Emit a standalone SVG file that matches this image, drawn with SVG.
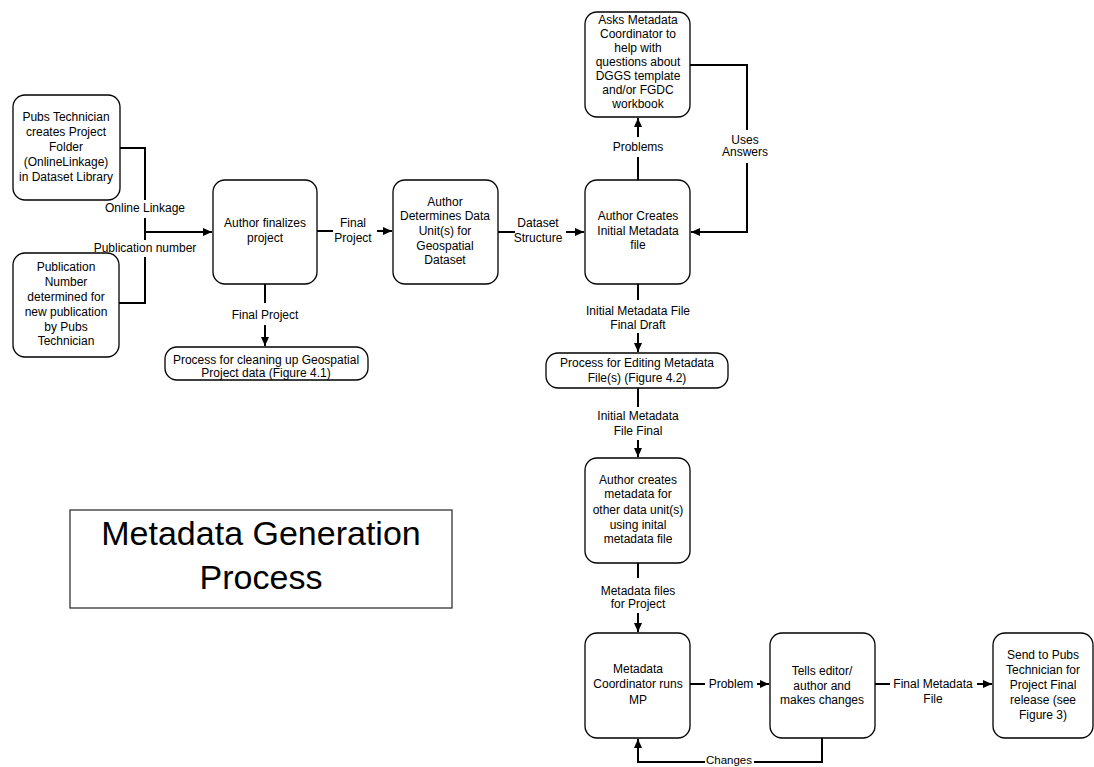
<svg xmlns="http://www.w3.org/2000/svg" width="1094" height="767" viewBox="0 0 1094 767">
<style>
.box{fill:#fff;stroke:#000;stroke-width:1.3}
.t{font-family:"Liberation Sans",Arial,sans-serif;font-size:12px;fill:#000;text-anchor:middle}
.title{font-family:"Liberation Sans",Arial,sans-serif;font-size:34px;fill:#000;text-anchor:middle}
.c{fill:none;stroke:#000;stroke-width:2}
</style>
<defs>
<marker id="ah" markerWidth="10" markerHeight="10" refX="9" refY="5" orient="auto" markerUnits="userSpaceOnUse">
<path d="M0,1 L9,5 L0,9 z" fill="#000"/>
</marker>
</defs>
<rect width="1094" height="767" fill="#fff"/>

<g id="connectors">
<path class="c" d="M120,148 H145 V200"/>
<path class="c" d="M145,218 V240"/>
<path class="c" d="M145,232 H212" marker-end="url(#ah)"/>
<path class="c" d="M145,257 V303 H119"/>
<text class="t" x="145" y="212">Online Linkage</text>
<text class="t" x="145" y="252">Publication number</text>

<path class="c" d="M317,231 H333"/>
<path class="c" d="M377,231 H392" marker-end="url(#ah)"/>
<text class="t" x="353" y="227">Final</text>
<text class="t" x="353" y="242">Project</text>

<path class="c" d="M265,284 V303"/>
<path class="c" d="M265,325 V346" marker-end="url(#ah)"/>
<text class="t" x="265" y="319">Final Project</text>

<path class="c" d="M498,232 H515"/>
<path class="c" d="M566,232 H584" marker-end="url(#ah)"/>
<text class="t" x="538" y="227">Dataset</text>
<text class="t" x="538" y="242">Structure</text>

<path class="c" d="M638,180 V157"/>
<path class="c" d="M638,137 V118" marker-end="url(#ah)"/>
<text class="t" x="638" y="151">Problems</text>

<path class="c" d="M690,65 H747 V130"/>
<path class="c" d="M747,163 V232 H691" marker-end="url(#ah)"/>
<text class="t" x="745" y="144">Uses</text>
<text class="t" x="745" y="156">Answers</text>

<path class="c" d="M638,284 V300"/>
<path class="c" d="M638,333 V352" marker-end="url(#ah)"/>
<text class="t" x="638" y="315">Initial Metadata File</text>
<text class="t" x="638" y="329">Final Draft</text>

<path class="c" d="M638,388 V407"/>
<path class="c" d="M638,440 V457" marker-end="url(#ah)"/>
<text class="t" x="638" y="420">Initial Metadata</text>
<text class="t" x="638" y="435">File Final</text>

<path class="c" d="M638,563 V578"/>
<path class="c" d="M638,613 V632" marker-end="url(#ah)"/>
<text class="t" x="638" y="595">Metadata files</text>
<text class="t" x="638" y="608">for Project</text>

<path class="c" d="M690,684 H705"/>
<path class="c" d="M757,684 H769" marker-end="url(#ah)"/>
<text class="t" x="731" y="688">Problem</text>

<path class="c" d="M875,684 H890"/>
<path class="c" d="M977,684 H992" marker-end="url(#ah)"/>
<text class="t" x="933" y="688">Final Metadata</text>
<text class="t" x="933" y="703">File</text>

<path class="c" d="M822,738 V762 H754"/>
<path class="c" d="M705,762 H638 V739" marker-end="url(#ah)"/>
<text class="t" x="729" y="764" style="font-size:11.5px">Changes</text>
</g>

<g id="pubs">
<rect class="box" x="13" y="95" width="107" height="105" rx="12"/>
<text class="t" x="66" y="121">Pubs Technician</text>
<text class="t" x="66" y="136">creates Project</text>
<text class="t" x="66" y="151">Folder</text>
<text class="t" x="66" y="166">(OnlineLinkage)</text>
<text class="t" x="66" y="181">in Dataset Library</text>
</g>

<g id="pubnum">
<rect class="box" x="13" y="253" width="106" height="104" rx="12"/>
<text class="t" x="66" y="271">Publication</text>
<text class="t" x="66" y="286">Number</text>
<text class="t" x="66" y="301">determined for</text>
<text class="t" x="66" y="316">new publication</text>
<text class="t" x="66" y="331">by Pubs</text>
<text class="t" x="66" y="345">Technician</text>
</g>

<g id="finalize">
<rect class="box" x="213" y="180" width="104" height="104" rx="12"/>
<text class="t" x="265" y="227">Author finalizes</text>
<text class="t" x="265" y="242">project</text>
</g>

<g id="determine">
<rect class="box" x="393" y="180" width="105" height="104" rx="12"/>
<text class="t" x="445" y="206">Author</text>
<text class="t" x="445" y="220">Determines Data</text>
<text class="t" x="445" y="235">Unit(s) for</text>
<text class="t" x="445" y="250">Geospatial</text>
<text class="t" x="445" y="264">Dataset</text>
</g>

<g id="creates">
<rect class="box" x="585" y="180" width="105" height="104" rx="12"/>
<text class="t" x="638" y="220">Author Creates</text>
<text class="t" x="638" y="235">Initial Metadata</text>
<text class="t" x="638" y="249">file</text>
</g>

<g id="asks">
<rect class="box" x="585" y="12" width="105" height="105" rx="12"/>
<text class="t" x="638" y="24">Asks Metadata</text>
<text class="t" x="638" y="38">Coordinator to</text>
<text class="t" x="638" y="52">help with</text>
<text class="t" x="638" y="66">questions about</text>
<text class="t" x="638" y="80">DGGS template</text>
<text class="t" x="638" y="94">and/or FGDC</text>
<text class="t" x="638" y="108">workbook</text>
</g>

<g id="cleanup">
<rect class="box" x="165" y="347" width="203" height="33" rx="12"/>
<text class="t" x="266" y="364">Process for cleaning up Geospatial</text>
<text class="t" x="266" y="377">Project data (Figure 4.1)</text>
</g>

<g id="editing">
<rect class="box" x="546" y="353" width="182" height="35" rx="12"/>
<text class="t" x="637" y="367">Process for Editing Metadata</text>
<text class="t" x="637" y="382">File(s) (Figure 4.2)</text>
</g>

<g id="otherunits">
<rect class="box" x="585" y="458" width="105" height="105" rx="12"/>
<text class="t" x="638" y="484">Author creates</text>
<text class="t" x="638" y="498">metadata for</text>
<text class="t" x="638" y="514">other data unit(s)</text>
<text class="t" x="638" y="529">using inital</text>
<text class="t" x="638" y="543">metadata file</text>
</g>

<g id="mp">
<rect class="box" x="585" y="633" width="105" height="105" rx="12"/>
<text class="t" x="638" y="673">Metadata</text>
<text class="t" x="638" y="688">Coordinator runs</text>
<text class="t" x="638" y="704">MP</text>
</g>

<g id="tells">
<rect class="box" x="770" y="633" width="105" height="105" rx="12"/>
<text class="t" x="822" y="675">Tells editor/</text>
<text class="t" x="822" y="690">author and</text>
<text class="t" x="822" y="704">makes changes</text>
</g>

<g id="send">
<rect class="box" x="993" y="633" width="100" height="105" rx="12"/>
<text class="t" x="1043" y="659">Send to Pubs</text>
<text class="t" x="1043" y="674">Technician for</text>
<text class="t" x="1043" y="689">Project Final</text>
<text class="t" x="1043" y="704">release (see</text>
<text class="t" x="1043" y="719">Figure 3)</text>
</g>

<g id="title">
<rect x="70" y="510" width="382" height="98" fill="#fff" stroke="#333" stroke-width="1.3"/>
<text class="title" x="261" y="545">Metadata Generation</text>
<text class="title" x="261" y="589">Process</text>
</g>
</svg>
